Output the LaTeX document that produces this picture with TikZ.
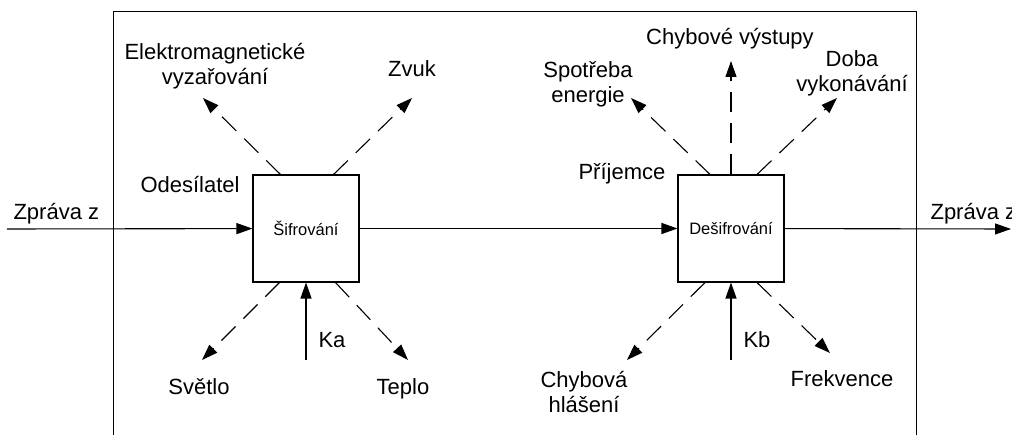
\documentclass[tikz,border=0pt]{standalone}
\usepackage{fontspec}
\setmainfont{Liberation Sans}
\usetikzlibrary{arrows.meta}

\begin{document}
\begin{tikzpicture}[x=1pt,y=-1pt,
	line width=1.1pt,
	flow/.style={-{Triangle[length=16pt,width=11pt]}},
	leak/.style={flow, dash pattern=on 20pt off 11pt},
	box/.style={draw, minimum width=106pt, minimum height=107pt, font=\fontsize{16.5}{19}\selectfont},
	lbl/.style={inner sep=0pt, anchor=base, align=center, font=\fontsize{22}{25}\selectfont}]
	\useasboundingbox (0,0) rectangle (1012,435);

	% outer frame, runs off the bottom edge
	\draw[line width=1pt] (113,450) -- (113,12) -- (916,12) -- (916,450);

	% the two blocks
	\node[box] (sif) at (306,228.5) {Šifrování};
	\node[box] (desif) at (731,228.5) {Dešifrování};

	% message path
	\coordinate (in) at (7,229);
	\coordinate (out) at (1011,229);
	\draw[flow] (in) -- (sif);
	\draw[flow] (sif) -- (desif);
	\draw[flow] (desif) -- (out);

	\node[lbl, anchor=base west] (zin) at (13,220) {Zpráva z};
	\node[lbl, anchor=base west] (zout) at (930,220) {Zpráva z};
	\node[lbl, anchor=base west] (odes) at (140,193) {Odesílatel};
	\node[lbl, anchor=base west] (prij) at (578,180) {Příjemce};

	% side channels of the sender (two-line labels sit on their last line)
	\node[lbl] (em) at (215,85) {Elektromagnetické\\vyzařování};
	\node[lbl] (zvuk) at (412,77) {Zvuk};
	\node[lbl] (svetlo) at (199,395) {Světlo};
	\node[lbl] (teplo) at (403,395) {Teplo};
	\node[lbl, anchor=base west] (ka) at (318,348) {Ka};
	\coordinate (emtip) at (203,98);
	\coordinate (zvuktip) at (412,98);
	\coordinate (svetlotip) at (202,360);
	\coordinate (teplotip) at (408,360);
	\coordinate (katail) at (306,360);
	\draw[leak] ([xshift=28pt]sif.north west) -- (emtip);
	\draw[leak] ([xshift=-26pt]sif.north east) -- (zvuktip);
	\draw[leak] ([xshift=27pt]sif.south west) -- (svetlotip);
	\draw[leak] ([xshift=-24pt]sif.south east) -- (teplotip);
	\draw[flow] (katail) -- (sif.south);

	% side channels of the receiver
	\node[lbl] (vystupy) at (730,45) {Chybové výstupy};
	\node[lbl] (spotreba) at (588,103) {Spotřeba\\energie};
	\node[lbl] (doba) at (852,92) {Doba\\vykonávání};
	\node[lbl] (hlaseni) at (584,413) {Chybová\\hlášení};
	\node[lbl] (frekv) at (842,387) {Frekvence};
	\node[lbl, anchor=base west] (kb) at (743,348) {Kb};
	\coordinate (spotrebatip) at (631,98);
	\coordinate (vystupytip) at (731,61);
	\coordinate (dobatip) at (837,98);
	\coordinate (hlasenitip) at (627,360);
	\coordinate (frekvtip) at (830,353);
	\coordinate (kbtail) at (731,360);
	\draw[leak] ([xshift=-21pt]desif.north) -- (spotrebatip);
	\draw[leak] (desif.north) -- (vystupytip);
	\draw[leak] ([xshift=26pt]desif.north) -- (dobatip);
	\draw[leak] ([xshift=-26pt]desif.south) -- (hlasenitip);
	\draw[leak] ([xshift=26pt]desif.south) -- (frekvtip);
	\draw[flow] (kbtail) -- (desif.south);
\end{tikzpicture}
\end{document}
